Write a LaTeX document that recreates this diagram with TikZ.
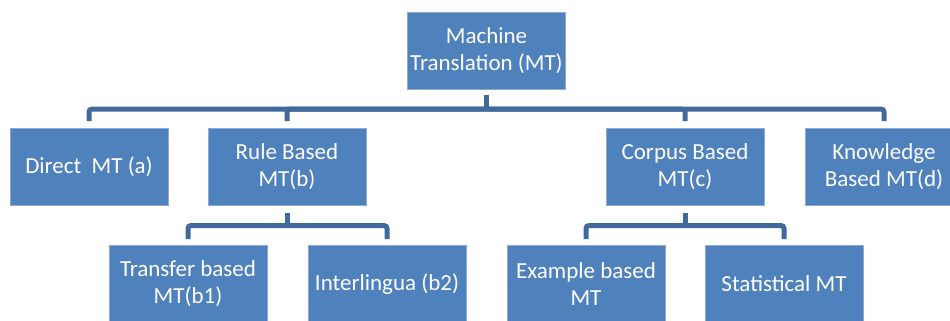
\documentclass[tikz,border=0pt]{standalone}
\usepackage{fontspec}
\setmainfont{Carlito}
\usetikzlibrary{calc}
\definecolor{boxblue}{HTML}{4F81BD}
\definecolor{edgeblue}{HTML}{8EAAD3}
\definecolor{linkblue}{HTML}{41699C}
\tikzset{
  mtbox/.style={rectangle, fill=boxblue, draw=edgeblue, line width=0.8pt,
    minimum width=158pt, minimum height=77pt, inner sep=0pt,
    text=white, align=center, font=\fontsize{23}{27}\selectfont},
  conn/.style={draw=linkblue, line width=5pt, rounded corners=3pt}
}
\begin{document}
\begin{tikzpicture}[x=1pt,y=-1pt]
\useasboundingbox (0,0) rectangle (950,321);
\clip (0,0) rectangle (950,321);
% boxes
\node[mtbox] (top) at (486.5,50.5) {Machine\\Translation (MT)};
\node[mtbox] (direct) at (89,167) {Direct\ \ MT (a)};
\node[mtbox] (rule) at (287,167) {Rule Based\\MT(b)};
\node[mtbox] (corpus) at (685,167) {Corpus Based\\MT(c)};
\node[mtbox] (know) at (884,167) {Knowledge\\Based MT(d)};
\node[mtbox] (transfer) at (188,284) {Transfer based\\MT(b1)};
\node[mtbox] (inter) at (387,284) {Interlingua (b2)};
\node[mtbox] (example) at (586,284) {Example based\\MT};
\node[mtbox] (stat) at (784,284) {Statistical MT};
% bus coordinates
\coordinate (busA) at (486.5,109);
\coordinate (busB) at (287,225.5);
\coordinate (busC) at (685,225.5);
% connectors level 1
\draw[conn] ([yshift=-6pt]top.south) -- (busA);
\draw[conn] (busA) -| ([yshift=7pt]direct.north);
\draw[conn] (busA) -| ([yshift=7pt]rule.north);
\draw[conn] (busA) -| ([yshift=7pt]corpus.north);
\draw[conn] (busA) -| ([yshift=7pt]know.north);
% connectors level 2
\draw[conn] ([yshift=-7pt]rule.south) -- (busB);
\draw[conn] (busB) -| ([yshift=6pt]transfer.north);
\draw[conn] (busB) -| ([yshift=6pt]inter.north);
\draw[conn] ([yshift=-7pt]corpus.south) -- (busC);
\draw[conn] (busC) -| ([yshift=6pt]example.north);
\draw[conn] (busC) -| ([yshift=6pt]stat.north);
\end{tikzpicture}
\end{document}
